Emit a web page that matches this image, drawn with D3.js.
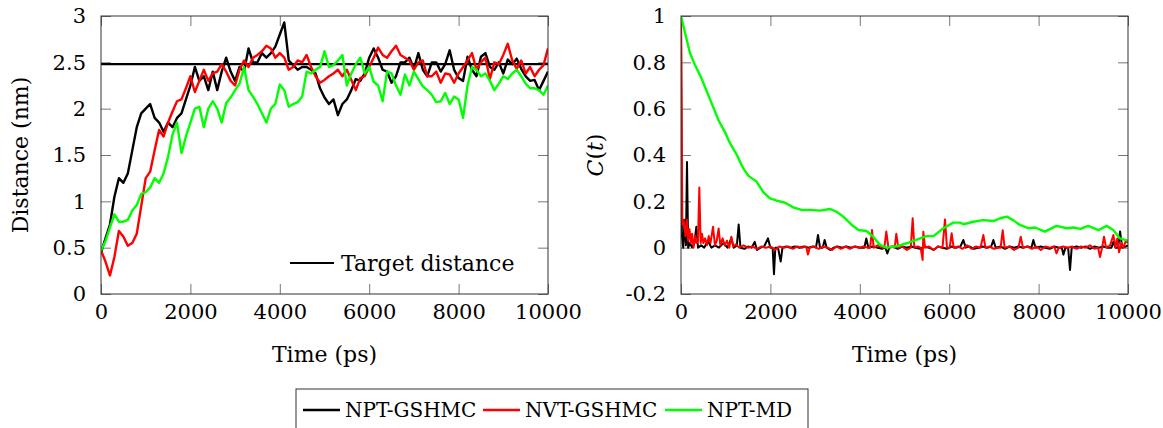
<!DOCTYPE html>
<html>
<head>
<meta charset="utf-8">
<script src="https://cdn.jsdelivr.net/npm/d3@7"></script>
<style>
  body { margin: 0; background: #fff; }
  svg text { font-family: "DejaVu Serif", "Liberation Serif", serif; fill: #000; }
</style>
</head>
<body>
<svg id="chart" width="1163" height="428"></svg>
<script>
// distance samples, one every 100 ps from 0 to 10000
const timeStep = 100;
const distNptGshmc = [
  0.45, 0.6, 0.75, 1.05, 1.25, 1.2, 1.3, 1.55, 1.8, 1.95,
  2.0, 2.05, 1.9, 1.85, 1.75, 1.85, 1.8, 1.9, 1.95, 2.1,
  2.25, 2.45, 2.3, 2.35, 2.2, 2.4, 2.2, 2.4, 2.55, 2.4,
  2.3, 2.45, 2.4, 2.65, 2.5, 2.5, 2.6, 2.55, 2.6, 2.67,
  2.8, 2.93, 2.52, 2.47, 2.42, 2.45, 2.45, 2.42, 2.38, 2.22,
  2.12, 2.05, 2.1, 1.93, 2.05, 2.1, 2.2, 2.32, 2.3, 2.38,
  2.55, 2.65, 2.55, 2.42, 2.4, 2.28, 2.35, 2.5, 2.5, 2.55,
  2.43, 2.6, 2.42, 2.35, 2.5, 2.5, 2.4, 2.48, 2.63, 2.42,
  2.33, 2.3, 2.56, 2.42, 2.35, 2.56, 2.6, 2.45, 2.42, 2.5,
  2.38, 2.53, 2.48, 2.54, 2.43, 2.35, 2.3, 2.31, 2.2, 2.3,
  2.4
];
const distNvtGshmc = [
  0.47, 0.35, 0.2, 0.4, 0.68, 0.62, 0.52, 0.55, 0.65, 0.95,
  1.25, 1.32, 1.55, 1.77, 1.7, 1.85, 1.97, 2.08, 2.1, 2.22,
  2.35, 2.18, 2.3, 2.42, 2.3, 2.38, 2.4, 2.48, 2.4, 2.3,
  2.25, 2.42, 2.52, 2.45, 2.55, 2.58, 2.62, 2.68, 2.65, 2.55,
  2.6, 2.55, 2.42, 2.45, 2.52, 2.5, 2.58, 2.45, 2.35, 2.28,
  2.31, 2.35, 2.38, 2.42, 2.35, 2.42, 2.31, 2.2, 2.33, 2.35,
  2.45, 2.55, 2.66, 2.58, 2.55, 2.62, 2.68, 2.58, 2.55, 2.52,
  2.42, 2.5, 2.52, 2.35, 2.35, 2.4, 2.28, 2.38, 2.37, 2.28,
  2.38, 2.45, 2.52, 2.6, 2.42, 2.5, 2.55, 2.32, 2.5, 2.48,
  2.58, 2.7, 2.52, 2.43, 2.52, 2.38, 2.45, 2.35, 2.42, 2.47,
  2.65
];
const distNptMd = [
  0.47, 0.57, 0.72, 0.86, 0.78, 0.78, 0.8, 0.9, 0.96, 1.08,
  1.1, 1.15, 1.25, 1.2, 1.3, 1.48, 1.72, 1.85, 1.52, 1.7,
  1.85, 2.0, 2.02, 1.8, 2.0, 2.08, 2.0, 1.85, 2.06, 2.12,
  2.2, 2.27, 2.45, 2.2, 2.13, 2.05, 1.95, 1.85, 2.0, 2.05,
  2.26, 2.2, 2.02, 2.05, 2.07, 2.13, 2.4, 2.38, 2.42, 2.45,
  2.62, 2.45, 2.47, 2.52, 2.58, 2.25, 2.38, 2.48, 2.55, 2.38,
  2.45, 2.29, 2.25, 2.08, 2.4, 2.38, 2.25, 2.15, 2.37, 2.25,
  2.4, 2.32, 2.24, 2.2, 2.15, 2.07, 2.08, 2.17, 2.05, 2.13,
  2.1, 1.9, 2.25, 2.45, 2.42, 2.35, 2.38, 2.3, 2.2, 2.27,
  2.35, 2.32, 2.38, 2.42, 2.35, 2.27, 2.22, 2.22, 2.2, 2.15,
  2.25
];
const targetDistance = 2.48;

// autocorrelation, [time, C(t)] pairs
const ctNptGshmc = [
  [0, 1], [20, 0.05], [50, 0], [80, 0.12], [110, 0.01], [134, 0.37], [160, 0], [200, 0.02],
  [250, 0], [300, 0.02], [343, 0.09], [380, 0], [450, 0.01], [520, 0], [600, 0.03], [680, 0],
  [760, 0.01], [850, 0], [950, 0.02], [1040, 0], [1126, 0.04], [1180, 0], [1250, 0.01],
  [1290, 0.1], [1330, 0], [1420, -0.005], [1500, 0.005], [1580, 0], [1648, 0.025], [1700, -0.01],
  [1780, 0], [1860, 0.005], [1946, 0.04], [2000, 0], [2050, 0], [2080, -0.115], [2110, 0],
  [2170, 0], [2230, -0.06], [2270, 0], [2350, 0.005], [2450, 0], [2550, 0.005], [2650, 0],
  [2750, 0.005], [2850, 0], [2950, 0.005], [3020, 0], [3065, 0.055], [3110, 0], [3170, 0],
  [3213, 0.033], [3260, 0], [3340, -0.01], [3420, 0], [3500, 0.005], [3600, 0], [3700, 0.005],
  [3800, 0], [3900, 0.005], [4000, 0], [4100, 0], [4146, 0.04], [4190, 0], [4300, 0.005],
  [4400, 0], [4500, -0.005], [4570, 0], [4616, -0.025], [4660, 0], [4750, 0.005], [4850, -0.005],
  [4950, 0.005], [5050, 0], [5150, 0.005], [5250, 0], [5350, -0.005], [5450, 0.005], [5550, 0],
  [5650, -0.01], [5750, 0.005], [5850, 0], [5950, -0.005], [6050, 0.005], [6150, 0], [6250, 0.005],
  [6317, 0.033], [6370, 0], [6450, 0.005], [6550, -0.005], [6650, 0], [6750, 0.005], [6850, 0],
  [6940, 0.005], [6988, 0.033], [7040, 0], [7150, 0.005], [7250, -0.005], [7350, 0.005], [7450, 0],
  [7550, 0.005], [7650, 0], [7750, 0.005], [7840, 0], [7883, 0.033], [7930, 0], [8050, 0.005],
  [8150, 0], [8250, -0.005], [8350, 0.005], [8450, 0], [8520, 0], [8554, -0.03], [8600, 0],
  [8660, 0], [8703, -0.096], [8740, 0], [8850, 0.005], [8950, 0], [9050, 0.005], [9150, -0.005],
  [9250, 0.005], [9350, 0], [9450, 0.005], [9550, 0], [9630, 0], [9673, 0.025], [9720, 0],
  [9780, 0], [9822, 0.07], [9870, 0], [9950, 0.005], [10000, 0.01]
];
const ctNvtGshmc = [
  [0, 1], [30, 0.1], [60, 0.12], [100, 0.05], [130, 0.12], [160, 0.03], [190, 0.08], [220, 0.02],
  [250, 0.06], [280, 0], [320, 0.05], [350, 0.02], [380, 0.03], [410, 0.26], [440, 0.02],
  [470, 0.06], [500, 0.02], [540, 0.04], [580, 0.01], [620, 0.05], [660, 0.02], [716, 0.09],
  [760, 0.01], [800, 0.03], [842, 0.083], [880, 0.01], [930, 0.04], [980, 0.01], [1030, 0.03],
  [1080, 0], [1126, 0.047], [1170, 0.005], [1230, 0.015], [1300, 0], [1400, 0.01], [1500, 0],
  [1600, 0.005], [1700, -0.005], [1800, 0.005], [1900, 0], [2000, 0.005], [2100, -0.01],
  [2200, 0.005], [2300, 0], [2400, 0.005], [2500, -0.005], [2600, 0.005], [2700, 0], [2800, 0.005],
  [2840, -0.03], [2880, 0], [2980, 0.005], [3080, -0.005], [3180, 0.005], [3280, 0], [3380, -0.01],
  [3480, 0.005], [3580, -0.005], [3680, 0.005], [3780, -0.005], [3880, 0.005], [3980, 0],
  [4080, 0.005], [4180, 0], [4230, 0], [4273, 0.076], [4310, 0], [4400, 0.01], [4500, 0],
  [4550, 0], [4593, 0.07], [4640, 0], [4700, 0.005], [4780, 0], [4817, 0.06], [4860, 0],
  [4950, 0.005], [5050, -0.01], [5140, 0], [5183, 0.127], [5220, 0], [5300, 0.005], [5360, 0],
  [5406, -0.053], [5421, 0.069], [5460, 0], [5550, 0.005], [5650, -0.01], [5750, 0.005], [5850, 0],
  [5906, 0.122], [5950, 0], [6010, 0], [6055, 0.062], [6100, 0], [6200, 0.005], [6300, -0.005],
  [6400, 0.01], [6500, -0.005], [6600, 0.005], [6700, 0], [6764, 0.055], [6810, 0], [6900, 0.005],
  [7000, -0.005], [7100, 0], [7150, 0], [7197, 0.075], [7240, 0], [7350, 0.005], [7450, -0.01],
  [7550, 0], [7600, 0.047], [7650, 0], [7750, 0.005], [7850, -0.005], [7950, 0.005], [8050, -0.01],
  [8150, 0.005], [8250, 0], [8350, 0.005], [8400, -0.025], [8450, 0], [8550, 0.005], [8650, 0],
  [8750, 0.005], [8850, -0.005], [8950, 0.005], [9050, 0], [9150, 0.01], [9250, -0.005], [9330, 0],
  [9373, -0.04], [9420, 0], [9463, 0.047], [9510, 0], [9600, 0.01], [9673, 0.055], [9720, 0],
  [9760, 0.04], [9800, -0.02], [9850, 0.02], [9900, 0], [9950, 0.03], [10000, 0.02]
];
const ctNptMd = [
  [0, 1.0], [200, 0.84], [310, 0.79], [460, 0.73], [650, 0.64], [840, 0.55], [980, 0.5],
  [1100, 0.45], [1250, 0.4], [1400, 0.34], [1510, 0.31], [1690, 0.285], [1840, 0.24],
  [1990, 0.213], [2140, 0.203], [2330, 0.194], [2510, 0.174], [2700, 0.163], [2890, 0.163],
  [3110, 0.16], [3330, 0.167], [3480, 0.155], [3630, 0.134], [3820, 0.098], [3970, 0.076],
  [4150, 0.072], [4300, 0.047], [4450, 0.012], [4600, 0], [4820, 0.006], [5050, 0.019],
  [5350, 0.04], [5500, 0.05], [5650, 0.05], [5870, 0.084], [6090, 0.108], [6240, 0.108],
  [6320, 0.101], [6540, 0.112], [6760, 0.119], [6990, 0.115], [7140, 0.127], [7290, 0.134],
  [7430, 0.119], [7580, 0.098], [7770, 0.084], [7920, 0.087], [8140, 0.069], [8400, 0.094],
  [8630, 0.084], [8780, 0.087], [8930, 0.081], [9110, 0.094], [9340, 0.076], [9520, 0.094],
  [9670, 0.076], [9820, 0.04], [10000, 0.03]
];

const timeTicks = [0, 2000, 4000, 6000, 8000, 10000];
const distTicks = [0, 0.5, 1, 1.5, 2, 2.5, 3];
const ctTicks = [-0.2, 0, 0.2, 0.4, 0.6, 0.8, 1];
const seriesNames = ['NPT-GSHMC', 'NVT-GSHMC', 'NPT-MD'];
const seriesColors = ['#000000', '#ff0000', '#00ff00'];

const serifFont = '"DejaVu Serif", "Liberation Serif", serif';
const svg = d3.select('#chart');
const plotTop = 16, plotBottom = 294, plotW = 447;
const tickFont = 21, labelFont = 22, legendFont = 20;

function drawPanel(left, yDomain, yTicks, id) {
  const x = d3.scaleLinear().domain([0, 10000]).range([left, left + plotW]);
  const y = d3.scaleLinear().domain(yDomain).range([plotBottom, plotTop]);
  const g = svg.append('g');

  g.append('clipPath').attr('id', id)
    .append('rect').attr('x', left).attr('y', plotTop).attr('width', plotW).attr('height', plotBottom - plotTop);

  const styleAxis = (sel, labels) => {
    sel.attr('font-family', serifFont).attr('font-size', tickFont);
    sel.select('.domain').remove();
    sel.selectAll('.tick line').attr('stroke', '#777').attr('stroke-width', 1);
    sel.selectAll('.tick text')
        .style('display', labels ? null : 'none');
  };

  g.append('g')
      .attr('transform', `translate(0, ${plotBottom})`)
      .call(d3.axisBottom(x).tickValues(timeTicks).tickSize(-10).tickPadding(10).tickFormat(String))
      .call(styleAxis, true);
  g.append('g')
      .attr('transform', `translate(0, ${plotTop})`)
      .call(d3.axisTop(x).tickValues(timeTicks).tickSize(-10))
      .call(styleAxis, false);
  g.append('g')
      .attr('transform', `translate(${left}, 0)`)
      .call(d3.axisLeft(y).tickValues(yTicks).tickSize(-10).tickPadding(15).tickFormat(String))
      .call(styleAxis, true);
  g.append('g')
      .attr('transform', `translate(${left + plotW}, 0)`)
      .call(d3.axisRight(y).tickValues(yTicks).tickSize(-10))
      .call(styleAxis, false);

  const plot = g.append('g').attr('clip-path', `url(#${id})`);
  g.append('rect')
      .attr('x', left).attr('y', plotTop)
      .attr('width', plotW).attr('height', plotBottom - plotTop)
      .attr('fill', 'none').attr('stroke', '#333').attr('stroke-width', 1);

  return { x, y, g, plot };
}

// left panel: distance
const dist = drawPanel(101, [0, 3], distTicks, 'clip-dist');
const distLine = d3.line()
    .x((d, i) => dist.x(i * timeStep))
    .y((d) => dist.y(d));

dist.plot.append('line')
    .attr('x1', dist.x(0)).attr('x2', dist.x(10000))
    .attr('y1', dist.y(targetDistance)).attr('y2', dist.y(targetDistance))
    .attr('stroke', '#000').attr('stroke-width', 2.2);

[distNptGshmc, distNvtGshmc, distNptMd].forEach((series, i) => {
  dist.plot.append('path')
      .datum(series)
      .attr('d', distLine)
      .attr('fill', 'none')
      .attr('stroke', seriesColors[i])
      .attr('stroke-width', 2.4)
      .attr('stroke-linejoin', 'round');
});

dist.g.append('line')
    .attr('x1', 290).attr('x2', 334).attr('y1', 263).attr('y2', 263)
    .attr('stroke', '#000').attr('stroke-width', 2.2);
dist.g.append('text')
    .attr('x', 341).attr('y', 271)
    .attr('font-family', serifFont)
    .attr('font-size', labelFont)
    .text('Target distance');

svg.append('text')
    .attr('transform', `translate(28, ${(plotTop + plotBottom) / 2}) rotate(-90)`)
    .attr('text-anchor', 'middle')
    .attr('font-family', serifFont)
    .attr('font-size', labelFont)
    .text('Distance (nm)');
svg.append('text')
    .attr('x', 101 + plotW / 2).attr('y', 362)
    .attr('text-anchor', 'middle')
    .attr('font-family', serifFont)
    .attr('font-size', labelFont)
    .text('Time (ps)');

// right panel: autocorrelation
const ct = drawPanel(681, [-0.2, 1], ctTicks, 'clip-ct');
const ctLine = d3.line()
    .x((d) => ct.x(d[0]))
    .y((d) => ct.y(d[1]));

[ctNptGshmc, ctNvtGshmc, ctNptMd].forEach((series, i) => {
  ct.plot.append('path')
      .datum(series)
      .attr('d', ctLine)
      .attr('fill', 'none')
      .attr('stroke', seriesColors[i])
      .attr('stroke-width', i === 2 ? 2.4 : 2)
      .attr('stroke-linejoin', 'round');
});

const ctLabel = svg.append('text')
    .attr('transform', `translate(603, ${(plotTop + plotBottom) / 2}) rotate(-90)`)
    .attr('text-anchor', 'middle')
    .attr('font-family', serifFont)
    .attr('font-size', labelFont);
ctLabel.append('tspan').attr('font-style', 'italic').text('C');
ctLabel.append('tspan').text('(');
ctLabel.append('tspan').attr('font-style', 'italic').text('t');
ctLabel.append('tspan').text(')');

svg.append('text')
    .attr('x', 681 + plotW / 2).attr('y', 362)
    .attr('text-anchor', 'middle')
    .attr('font-family', serifFont)
    .attr('font-size', labelFont)
    .text('Time (ps)');

// shared legend below the panels
const legend = svg.append('g').attr('font-family', serifFont);
legend.append('rect')
    .attr('x', 296).attr('y', 389).attr('width', 512).attr('height', 60)
    .attr('fill', '#fff').attr('stroke', '#333').attr('stroke-width', 1);
const legendX = [303, 483, 665];
seriesNames.forEach((name, i) => {
  legend.append('line')
      .attr('x1', legendX[i]).attr('x2', legendX[i] + 37)
      .attr('y1', 410).attr('y2', 410)
      .attr('stroke', seriesColors[i]).attr('stroke-width', 2.4);
  legend.append('text')
      .attr('x', legendX[i] + 42).attr('y', 417)
      .attr('font-size', legendFont)
      .text(name);
});
</script>
</body>
</html>
